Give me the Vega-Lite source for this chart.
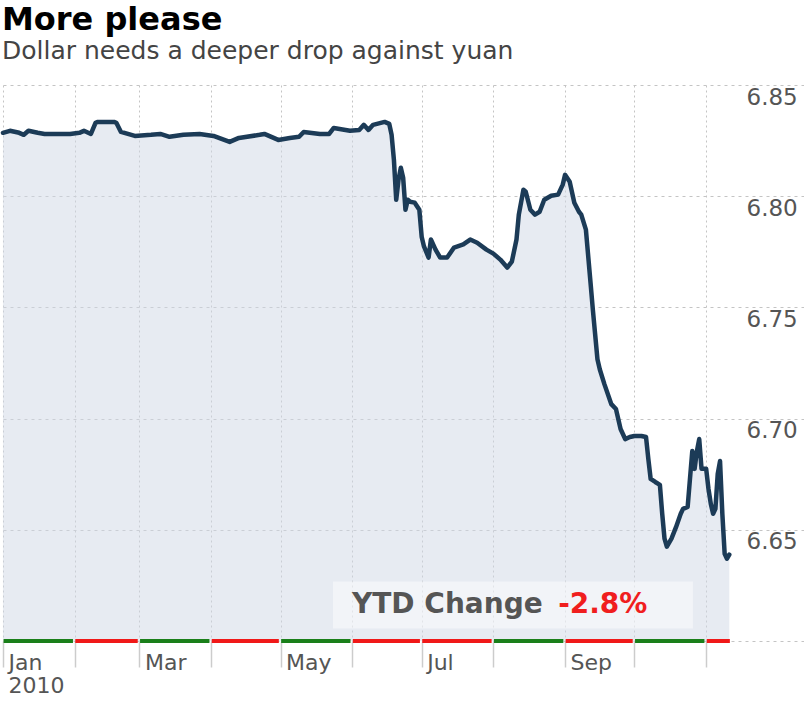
{
  "$schema": "https://vega.github.io/schema/vega-lite/v6.json",
  "width": 804,
  "height": 556,
  "autosize": {"type": "none"},
  "padding": {"left": 0, "top": 85, "right": 0, "bottom": 60},
  "background": "white",
  "config": {"view": {"stroke": null}, "font": "DejaVu Sans"},
  "title": {
    "text": "More please",
    "subtitle": "Dollar needs a deeper drop against yuan",
    "anchor": "start",
    "frame": "group",
    "font": "DejaVu Sans",
    "fontSize": 32,
    "fontWeight": "bold",
    "color": "#000000",
    "subtitleFont": "DejaVu Sans",
    "subtitleFontSize": 25,
    "subtitleColor": "#444444",
    "subtitlePadding": 2,
    "offset": 20,
    "dx": 2
  },
  "datasets": {
    "rate": [
      {"date": "2010-01-01", "v": 6.8285},
      {"date": "2010-01-04", "v": 6.8294},
      {"date": "2010-01-08", "v": 6.8285},
      {"date": "2010-01-10", "v": 6.8276},
      {"date": "2010-01-12", "v": 6.8294},
      {"date": "2010-01-16", "v": 6.8285},
      {"date": "2010-01-19", "v": 6.8280},
      {"date": "2010-01-25", "v": 6.8280},
      {"date": "2010-01-30", "v": 6.8280},
      {"date": "2010-02-03", "v": 6.8285},
      {"date": "2010-02-05", "v": 6.8294},
      {"date": "2010-02-08", "v": 6.8280},
      {"date": "2010-02-10", "v": 6.8330},
      {"date": "2010-02-11", "v": 6.8334},
      {"date": "2010-02-18", "v": 6.8334},
      {"date": "2010-02-19", "v": 6.8330},
      {"date": "2010-02-21", "v": 6.8289},
      {"date": "2010-02-27", "v": 6.8271},
      {"date": "2010-03-06", "v": 6.8276},
      {"date": "2010-03-10", "v": 6.8280},
      {"date": "2010-03-14", "v": 6.8267},
      {"date": "2010-03-20", "v": 6.8276},
      {"date": "2010-03-27", "v": 6.8280},
      {"date": "2010-04-02", "v": 6.8271},
      {"date": "2010-04-09", "v": 6.8244},
      {"date": "2010-04-13", "v": 6.8262},
      {"date": "2010-04-22", "v": 6.8276},
      {"date": "2010-04-24", "v": 6.8280},
      {"date": "2010-04-30", "v": 6.8253},
      {"date": "2010-05-05", "v": 6.8262},
      {"date": "2010-05-09", "v": 6.8267},
      {"date": "2010-05-11", "v": 6.8289},
      {"date": "2010-05-18", "v": 6.8280},
      {"date": "2010-05-22", "v": 6.8280},
      {"date": "2010-05-24", "v": 6.8307},
      {"date": "2010-05-31", "v": 6.8294},
      {"date": "2010-06-04", "v": 6.8298},
      {"date": "2010-06-06", "v": 6.8321},
      {"date": "2010-06-08", "v": 6.8298},
      {"date": "2010-06-10", "v": 6.8321},
      {"date": "2010-06-15", "v": 6.8334},
      {"date": "2010-06-17", "v": 6.8325},
      {"date": "2010-06-18", "v": 6.8276},
      {"date": "2010-06-19", "v": 6.8164},
      {"date": "2010-06-20", "v": 6.7984},
      {"date": "2010-06-21", "v": 6.8074},
      {"date": "2010-06-22", "v": 6.8128},
      {"date": "2010-06-23", "v": 6.8083},
      {"date": "2010-06-24", "v": 6.7939},
      {"date": "2010-06-25", "v": 6.7984},
      {"date": "2010-06-26", "v": 6.7975},
      {"date": "2010-06-28", "v": 6.7971},
      {"date": "2010-06-30", "v": 6.7939},
      {"date": "2010-07-01", "v": 6.7818},
      {"date": "2010-07-02", "v": 6.7774},
      {"date": "2010-07-04", "v": 6.7724},
      {"date": "2010-07-05", "v": 6.7805},
      {"date": "2010-07-07", "v": 6.7760},
      {"date": "2010-07-09", "v": 6.7724},
      {"date": "2010-07-12", "v": 6.7724},
      {"date": "2010-07-15", "v": 6.7769},
      {"date": "2010-07-19", "v": 6.7783},
      {"date": "2010-07-22", "v": 6.7805},
      {"date": "2010-07-25", "v": 6.7791},
      {"date": "2010-07-29", "v": 6.7760},
      {"date": "2010-08-01", "v": 6.7742},
      {"date": "2010-08-04", "v": 6.7715},
      {"date": "2010-08-07", "v": 6.7679},
      {"date": "2010-08-09", "v": 6.7706},
      {"date": "2010-08-11", "v": 6.7805},
      {"date": "2010-08-12", "v": 6.7917},
      {"date": "2010-08-14", "v": 6.8029},
      {"date": "2010-08-15", "v": 6.8020},
      {"date": "2010-08-17", "v": 6.7939},
      {"date": "2010-08-19", "v": 6.7917},
      {"date": "2010-08-21", "v": 6.7930},
      {"date": "2010-08-23", "v": 6.7984},
      {"date": "2010-08-26", "v": 6.8002},
      {"date": "2010-08-29", "v": 6.8007},
      {"date": "2010-08-31", "v": 6.8052},
      {"date": "2010-09-01", "v": 6.8096},
      {"date": "2010-09-03", "v": 6.8065},
      {"date": "2010-09-05", "v": 6.7971},
      {"date": "2010-09-07", "v": 6.7930},
      {"date": "2010-09-08", "v": 6.7917},
      {"date": "2010-09-10", "v": 6.7850},
      {"date": "2010-09-12", "v": 6.7612},
      {"date": "2010-09-13", "v": 6.7491},
      {"date": "2010-09-14", "v": 6.7379},
      {"date": "2010-09-15", "v": 6.7267},
      {"date": "2010-09-16", "v": 6.7222},
      {"date": "2010-09-18", "v": 6.7155},
      {"date": "2010-09-21", "v": 6.7065},
      {"date": "2010-09-23", "v": 6.7043},
      {"date": "2010-09-25", "v": 6.6953},
      {"date": "2010-09-27", "v": 6.6908},
      {"date": "2010-09-29", "v": 6.6917},
      {"date": "2010-10-01", "v": 6.6922},
      {"date": "2010-10-04", "v": 6.6922},
      {"date": "2010-10-06", "v": 6.6917},
      {"date": "2010-10-07", "v": 6.6818},
      {"date": "2010-10-08", "v": 6.6729},
      {"date": "2010-10-10", "v": 6.6715},
      {"date": "2010-10-12", "v": 6.6702},
      {"date": "2010-10-13", "v": 6.6572},
      {"date": "2010-10-14", "v": 6.6460},
      {"date": "2010-10-15", "v": 6.6424},
      {"date": "2010-10-17", "v": 6.6460},
      {"date": "2010-10-19", "v": 6.6513},
      {"date": "2010-10-21", "v": 6.6572},
      {"date": "2010-10-22", "v": 6.6594},
      {"date": "2010-10-24", "v": 6.6603},
      {"date": "2010-10-25", "v": 6.6729},
      {"date": "2010-10-26", "v": 6.6854},
      {"date": "2010-10-27", "v": 6.6774},
      {"date": "2010-10-28", "v": 6.6854},
      {"date": "2010-10-29", "v": 6.6908},
      {"date": "2010-10-30", "v": 6.6774},
      {"date": "2010-11-01", "v": 6.6774},
      {"date": "2010-11-02", "v": 6.6684},
      {"date": "2010-11-03", "v": 6.6617},
      {"date": "2010-11-04", "v": 6.6572},
      {"date": "2010-11-05", "v": 6.6594},
      {"date": "2010-11-06", "v": 6.6751},
      {"date": "2010-11-07", "v": 6.6809},
      {"date": "2010-11-08", "v": 6.6572},
      {"date": "2010-11-09", "v": 6.6392},
      {"date": "2010-11-10", "v": 6.6370},
      {"date": "2010-11-11", "v": 6.6388}
    ],
    "months": [
      {"start": "2010-01-01T06:00:00Z", "end": "2010-01-31T06:00:00Z", "dir": "up"},
      {"start": "2010-02-01T06:00:00Z", "end": "2010-02-28T06:00:00Z", "dir": "down"},
      {"start": "2010-03-01T06:00:00Z", "end": "2010-03-31T06:00:00Z", "dir": "up"},
      {"start": "2010-04-01T06:00:00Z", "end": "2010-04-30T06:00:00Z", "dir": "down"},
      {"start": "2010-05-01T06:00:00Z", "end": "2010-05-31T06:00:00Z", "dir": "up"},
      {"start": "2010-06-01T06:00:00Z", "end": "2010-06-30T06:00:00Z", "dir": "down"},
      {"start": "2010-07-01T06:00:00Z", "end": "2010-07-31T06:00:00Z", "dir": "down"},
      {"start": "2010-08-01T06:00:00Z", "end": "2010-08-31T06:00:00Z", "dir": "up"},
      {"start": "2010-09-01T06:00:00Z", "end": "2010-09-30T06:00:00Z", "dir": "down"},
      {"start": "2010-10-01T06:00:00Z", "end": "2010-10-31T06:00:00Z", "dir": "up"},
      {"start": "2010-11-01T06:00:00Z", "end": "2010-11-11T06:00:00Z", "dir": "down"}
    ],
    "note": [
      {"label": "YTD Change", "change": "-2.8%"}
    ]
  },
  "layer": [
    {
      "data": {"name": "rate"},
      "mark": {"type": "area", "color": "#cfd8e6", "opacity": 0.5},
      "encoding": {
        "x": {
          "field": "date",
          "type": "temporal",
          "title": null,
          "scale": {
            "type": "utc",
            "domain": [
              {"year": 2009, "month": 12, "date": 30, "hours": 16, "minutes": 53, "utc": true},
              {"year": 2010, "month": 12, "date": 13, "hours": 7, "minutes": 12, "utc": true}
            ]
          },
          "axis": {
            "values": [
              {"year": 2010, "month": 1, "date": 1, "utc": true},
              {"year": 2010, "month": 2, "date": 1, "utc": true},
              {"year": 2010, "month": 3, "date": 1, "utc": true},
              {"year": 2010, "month": 4, "date": 1, "utc": true},
              {"year": 2010, "month": 5, "date": 1, "utc": true},
              {"year": 2010, "month": 6, "date": 1, "utc": true},
              {"year": 2010, "month": 7, "date": 1, "utc": true},
              {"year": 2010, "month": 8, "date": 1, "utc": true},
              {"year": 2010, "month": 9, "date": 1, "utc": true},
              {"year": 2010, "month": 10, "date": 1, "utc": true},
              {"year": 2010, "month": 11, "date": 1, "utc": true}
            ],
            "labelExpr": "utcmonth(datum.value) == 0 ? ['Jan', '2010'] : ((utcmonth(datum.value) % 2 == 0 && utcmonth(datum.value) < 10) ? utcFormat(datum.value, '%b') : '')",
            "domain": false,
            "grid": true,
            "gridColor": "#c4c4c4",
            "gridDash": [2, 3],
            "gridWidth": 1,
            "ticks": true,
            "tickSize": 26,
            "tickColor": "#cccccc",
            "tickWidth": 1.5,
            "labelAlign": "left",
            "labelBaseline": "top",
            "labelOffset": 5,
            "labelPadding": -15,
            "labelFontSize": 22,
            "labelColor": "#555555",
            "labelLineHeight": 23,
            "labelOverlap": false,
            "labelFlush": false,
            "labelBound": false
          }
        },
        "y": {
          "field": "v",
          "type": "quantitative",
          "title": null,
          "scale": {"domain": [6.6, 6.85], "zero": false, "nice": false},
          "axis": {
            "orient": "right",
            "offset": -62,
            "values": [6.6, 6.65, 6.7, 6.75, 6.8, 6.85],
            "labelExpr": "datum.value < 6.62 ? '' : format(datum.value, '.2f')",
            "domain": false,
            "ticks": false,
            "grid": true,
            "gridColor": "#c4c4c4",
            "gridDash": [3, 4],
            "gridWidth": 1,
            "labelAlign": "left",
            "labelBaseline": "top",
            "labelOffset": 1,
            "labelPadding": 4,
            "labelFontSize": 23,
            "labelColor": "#555555",
            "labelBound": false,
            "labelFlush": false
          }
        },
        "y2": {"datum": 6.6}
      }
    },
    {
      "data": {"name": "note"},
      "mark": {"type": "rect", "color": "white", "opacity": 0.45},
      "encoding": {
        "x": {"datum": {"year": 2010, "month": 5, "date": 23, "hours": 16, "utc": true}, "type": "temporal"},
        "x2": {"datum": {"year": 2010, "month": 10, "date": 26, "hours": 7, "utc": true}},
        "y": {"datum": 6.6267, "type": "quantitative"},
        "y2": {"datum": 6.6056}
      }
    },
    {
      "data": {"name": "rate"},
      "mark": {"type": "line", "color": "#1c3b57", "strokeWidth": 4.5, "strokeJoin": "round", "strokeCap": "round"},
      "encoding": {
        "x": {"field": "date", "type": "temporal"},
        "y": {"field": "v", "type": "quantitative"}
      }
    },
    {
      "data": {"name": "months"},
      "mark": {"type": "rule", "strokeWidth": 4},
      "encoding": {
        "x": {"field": "start", "type": "temporal"},
        "x2": {"field": "end"},
        "y": {"datum": 6.6, "type": "quantitative"},
        "color": {
          "field": "dir",
          "type": "nominal",
          "scale": {"domain": ["up", "down"], "range": ["#1a7f1a", "#f01818"]},
          "legend": null
        }
      }
    },
    {
      "data": {"name": "note"},
      "mark": {"type": "text", "align": "left", "baseline": "alphabetic", "fontSize": 28, "fontWeight": "bold", "color": "#555555"},
      "encoding": {
        "text": {"field": "label"},
        "x": {"datum": {"year": 2010, "month": 5, "date": 31, "hours": 21, "utc": true}, "type": "temporal"},
        "y": {"datum": 6.6128, "type": "quantitative"}
      }
    },
    {
      "data": {"name": "note"},
      "mark": {"type": "text", "align": "left", "baseline": "alphabetic", "fontSize": 28, "fontWeight": "bold", "color": "#f01e1e"},
      "encoding": {
        "text": {"field": "change"},
        "x": {"datum": {"year": 2010, "month": 8, "date": 29, "hours": 0, "utc": true}, "type": "temporal"},
        "y": {"datum": 6.6128, "type": "quantitative"}
      }
    }
  ]
}
